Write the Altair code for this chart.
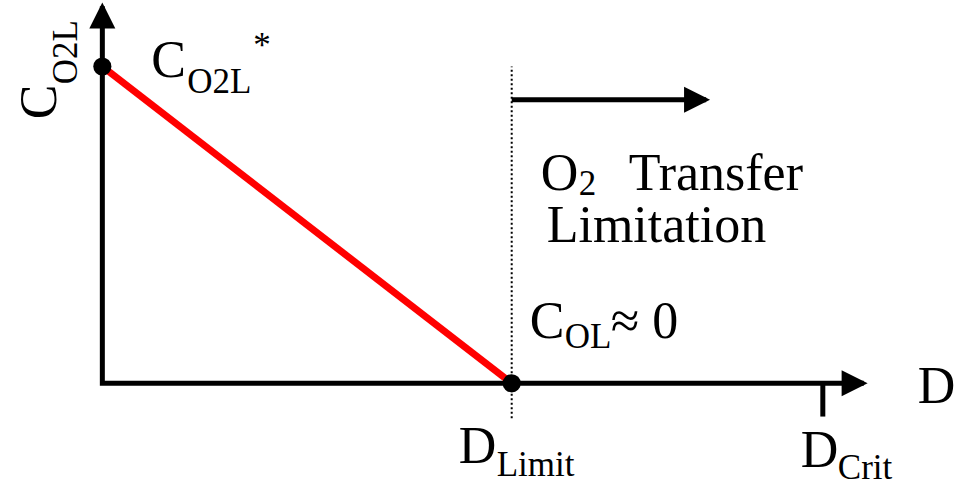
import altair as alt
import pandas as pd

# Schematic: dissolved oxygen C_O2L versus dilution rate D in a chemostat
D_LIMIT = 1.0       # dilution rate where oxygen runs out
D_CRIT = 1.76       # critical (washout) dilution rate
C_STAR = 1.0        # saturation concentration C_O2L*
D_AXIS_END = 1.86   # end of the D axis shaft
C_AXIS_END = 1.19   # end of the C_O2L axis shaft
ARROW_Y = 0.895     # height of the "O2 transfer limitation" arrow
ARROW_END = 1.475   # end of that arrow's shaft
GUIDE_BOTTOM = -0.11
TICK_BOTTOM = -0.105

# oxygen profile: falls from C* at D = 0 to zero at D_limit
profile_d = [0.0, D_LIMIT]
profile_c = [C_STAR, 0.0]

# highlighted points on the profile
dot_d = [0.0, D_LIMIT]
dot_c = [C_STAR, 0.0]

W, H = 962, 491
FONT = "Liberation Serif"
BIG, SMALL = 52, 35

xs = alt.Scale(domain=[-0.25, 2.1], nice=False, zero=False)
ys = alt.Scale(domain=[-0.34, 1.21], nice=False, zero=False)


def X(f):
    return alt.X(f, type="quantitative", scale=xs, axis=None)


def Y(f):
    return alt.Y(f, type="quantitative", scale=ys, axis=None)


# axes drawn as one polyline so the corner is mitred
axes_df = pd.DataFrame({"x": [0.0, 0.0, D_AXIS_END], "y": [C_AXIS_END, 0.0, 0.0], "o": [0, 1, 2]})
axes = alt.Chart(axes_df).mark_line(
    color="black", strokeWidth=5, strokeJoin="miter", strokeCap="butt"
).encode(x=X("x"), y=Y("y"), order="o:O")

up_head = alt.Chart(pd.DataFrame({"x": [0.0], "y": [C_AXIS_END]})).mark_point(
    shape="M0,-0.3L-1,1.7L1,1.7Z", size=676, filled=True, color="black", opacity=1, strokeWidth=0
).encode(x=X("x"), y=Y("y"))

right_heads = alt.Chart(pd.DataFrame({"x": [D_AXIS_END, ARROW_END], "y": [0.0, ARROW_Y]})).mark_point(
    shape="M0.3,0L-1.7,-1L-1.7,1Z", size=676, filled=True, color="black", opacity=1, strokeWidth=0
).encode(x=X("x"), y=Y("y"))

guide = alt.Chart(pd.DataFrame({"x": [D_LIMIT], "y": [GUIDE_BOTTOM], "y2": [C_STAR]})).mark_rule(
    color="black", strokeWidth=2, strokeDash=[2, 2.5]
).encode(x=X("x"), y=Y("y"), y2="y2:Q")

crit_tick = alt.Chart(pd.DataFrame({"x": [D_CRIT], "y": [TICK_BOTTOM], "y2": [0.0]})).mark_rule(
    color="black", strokeWidth=5
).encode(x=X("x"), y=Y("y"), y2="y2:Q")

shaft = alt.Chart(pd.DataFrame({"x": [D_LIMIT], "x2": [ARROW_END], "y": [ARROW_Y]})).mark_rule(
    color="black", strokeWidth=5
).encode(x=X("x"), x2="x2:Q", y=Y("y"))

profile = alt.Chart(pd.DataFrame({"d": profile_d, "c": profile_c})).mark_line(
    color="#ff0000", strokeWidth=7, strokeCap="butt"
).encode(x=X("d"), y=Y("c"))

dots = alt.Chart(pd.DataFrame({"d": dot_d, "c": dot_c})).mark_circle(
    size=330, color="black", opacity=1
).encode(x=X("d"), y=Y("c"))

# text pieces: (text, anchor x, anchor y, dx, dy, size, angle)
pieces = [
    ("C", 0.0, 0.0, 264, -46, BIG, 270),
    ("O2L", 0.0, 0.0, 299, -25, SMALL, 270),
    ("C", 0.0, C_STAR, 49, 10.5, BIG, 0),
    ("O2L", 0.0, C_STAR, 85, 26.5, SMALL, 0),
    ("*", 0.0, C_STAR, 151, -10, SMALL, 0),
    ("O", D_LIMIT, ARROW_Y, 29, 90, BIG, 0),
    ("2", D_LIMIT, ARROW_Y, 67, 95, SMALL, 0),
    ("Transfer", D_LIMIT, ARROW_Y, 117, 90, BIG, 0),
    ("Limitation", D_LIMIT, ARROW_Y, 35, 142, BIG, 0),
    ("C", D_LIMIT, 0.0, 18, -45, BIG, 0),
    ("OL", D_LIMIT, 0.0, 53, -35, SMALL, 0),
    ("≈ 0", D_LIMIT, 0.0, 99, -45, BIG, 0),
    ("D", D_AXIS_END, 0.0, 54, 20, BIG, 0),
    ("D", D_LIMIT, 0.0, -53, 80, BIG, 0),
    ("Limit", D_LIMIT, 0.0, -15, 93, SMALL, 0),
    ("D", D_CRIT, 0.0, -22, 84, BIG, 0),
    ("Crit", D_CRIT, 0.0, 15, 96, SMALL, 0),
]

texts = []
for txt, ax, ay, dx, dy, size, ang in pieces:
    texts.append(
        alt.Chart(pd.DataFrame({"x": [ax], "y": [ay], "t": [txt]})).mark_text(
            font=FONT, fontSize=size, align="left", baseline="alphabetic",
            dx=dx, dy=dy, angle=ang
        ).encode(x=X("x"), y=Y("y"), text="t:N")
    )

chart = alt.layer(
    guide, axes, crit_tick, shaft, profile, up_head, right_heads, dots, *texts
).properties(
    width=W, height=H, padding=0, background="white",
    autosize=alt.AutoSizeParams(type="none")
).configure_view(stroke=None).configure_text(font=FONT, color="black")

chart.save("out.html", embed_options={"renderer": "svg", "actions": False})
